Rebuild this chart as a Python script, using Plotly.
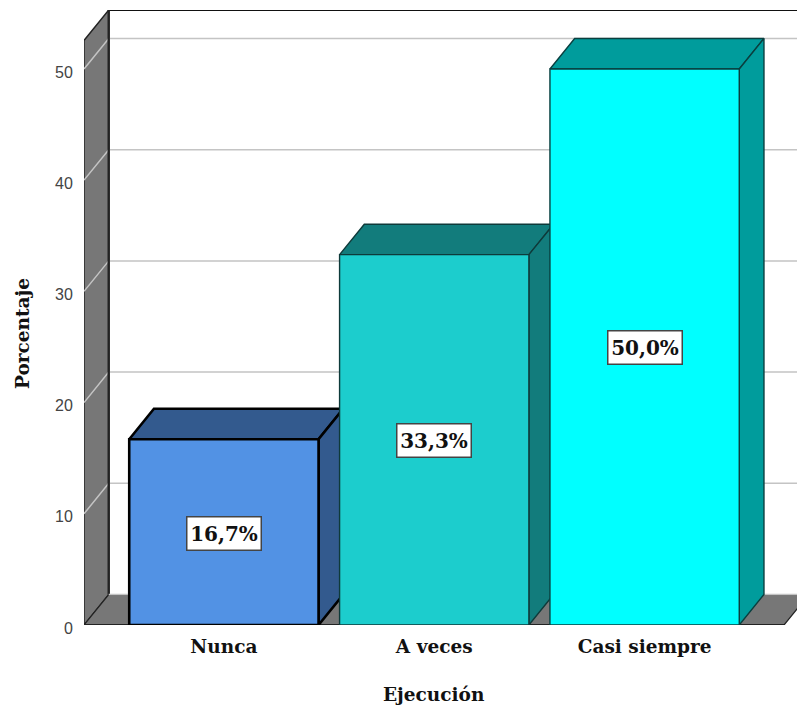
import plotly.graph_objects as go

# Chart content
categories = ["Nunca", "A veces", "Casi siempre"]
values = [16.7, 33.3, 50.0]
value_labels = ["16,7%", "33,3%", "50,0%"]
y_ticks = [0, 10, 20, 30, 40, 50]
x_title = "Ejecución"
y_title = "Porcentaje"

# Faces of each bar: front, shaded top/side, outline
front_colors = ["#5292E4", "#1CCDCD", "#00FFFF"]
shade_colors = ["#335A8E", "#127C7C", "#009C9C"]
edge_colors = ["#000000", "#0E3A3A", "#0A3F3F"]
edge_widths = [2.6, 1.4, 1.4]

WALL = "#777777"
GRID = "#C4C4C4"
SERIF = "DejaVu Serif"
SANS = "Liberation Sans"

# Oblique depth of the box, in axis units
DEPTH_X = 0.1175
DEPTH_Y = 2.74
BAR_W = 0.9

X_LEFT, X_FLOOR_END, X_MAX = -0.665, 2.663, 2.7245
Y_MAX = 55.3

fig = go.Figure()


def face(xs, ys, fill, line_color, line_width):
    fig.add_trace(go.Scatter(
        x=xs + xs[:1], y=ys + ys[:1], mode="lines", fill="toself",
        fillcolor=fill, line=dict(color=line_color, width=line_width),
        hoverinfo="skip", showlegend=False, cliponaxis=False,
    ))


def segment(xs, ys, color, width):
    fig.add_trace(go.Scatter(
        x=xs, y=ys, mode="lines", line=dict(color=color, width=width),
        hoverinfo="skip", showlegend=False, cliponaxis=False,
    ))


back_x = X_LEFT + DEPTH_X
top_back = Y_MAX
top_front = Y_MAX - DEPTH_Y

# Left wall and floor of the box
face([X_LEFT, back_x, back_x, X_LEFT], [0, DEPTH_Y, top_back, top_front], WALL, "#222222", 1.4)
face([X_LEFT, X_FLOOR_END, X_FLOOR_END + DEPTH_X, back_x], [0, 0, DEPTH_Y, DEPTH_Y], WALL, "#222222", 1.2)

# Gridlines run up the wall and across the back
for t in y_ticks:
    if t > 0:
        segment([X_LEFT, back_x, X_MAX + DEPTH_X], [t, t + DEPTH_Y, t + DEPTH_Y], GRID, 1.5)

# Back edges drawn over the gridlines
segment([back_x, X_MAX + DEPTH_X], [top_back, top_back], "#111111", 2)
segment([back_x, back_x], [DEPTH_Y, top_back], "#222222", 2.4)
segment([back_x, X_MAX + DEPTH_X], [DEPTH_Y, DEPTH_Y], GRID, 1.5)
segment([X_LEFT, X_FLOOR_END], [0, 0], "#222222", 2)

# Bars, left to right so each front covers the previous side face
for i, v in enumerate(values):
    x0, x1 = i - BAR_W / 2, i + BAR_W / 2
    face([x0, x1, x1 + DEPTH_X, x0 + DEPTH_X], [v, v, v + DEPTH_Y, v + DEPTH_Y],
         shade_colors[i], edge_colors[i], edge_widths[i])
    face([x1, x1 + DEPTH_X, x1 + DEPTH_X, x1], [0, DEPTH_Y, v + DEPTH_Y, v],
         shade_colors[i], edge_colors[i], edge_widths[i])
    face([x0, x1, x1, x0], [0, 0, v, v], front_colors[i], edge_colors[i], edge_widths[i])

# Value labels centred on each bar
for i, v in enumerate(values):
    fig.add_annotation(
        x=i, y=v / 2, text=f"<b>{value_labels[i]}</b>", showarrow=False,
        font=dict(family=SERIF, size=20, color="#111111"),
        width=73, height=32, yshift=-1,
        bgcolor="#FFFFFF", bordercolor="#444444", borderwidth=1.5, borderpad=0,
    )

# Axis titles sit on the middle bar and the middle of the value scale
title_font = dict(family=SERIF, size=18.5, color="#111111")
fig.add_annotation(
    x=1, xref="x", y=-0.1138, yref="paper", text=f"<b>{x_title}</b>",
    showarrow=False, font=title_font, xanchor="center", yanchor="middle",
)
fig.add_annotation(
    x=-0.0856, xref="paper", y=0.4748, yref="paper", text=f"<b>{y_title}</b>",
    showarrow=False, textangle=-90, font=title_font, xanchor="center", yanchor="middle",
)

fig.update_layout(
    width=797, height=709, autosize=False,
    margin=dict(l=84, r=0, t=10, b=84, autoexpand=False),
    paper_bgcolor="#FFFFFF", plot_bgcolor="#FFFFFF", showlegend=False,
    xaxis=dict(
        range=[X_LEFT, X_MAX], showgrid=False, zeroline=False, showline=False,
        tickmode="array", tickvals=list(range(len(categories))),
        ticktext=[f"<b>{c}</b>" for c in categories],
        ticks="outside", ticklen=5, tickcolor="rgba(0,0,0,0)",
        tickfont=dict(family=SERIF, size=18.5, color="#111111"),
    ),
    yaxis=dict(
        range=[0, Y_MAX], showgrid=False, zeroline=False, showline=False,
        tickmode="array", tickvals=y_ticks,
        ticks="outside", ticklen=7, tickcolor="rgba(0,0,0,0)",
        ticklabelshift=3,
        tickfont=dict(family=SANS, size=16, color="#444444"),
    ),
)

fig.write_html("out.html")
